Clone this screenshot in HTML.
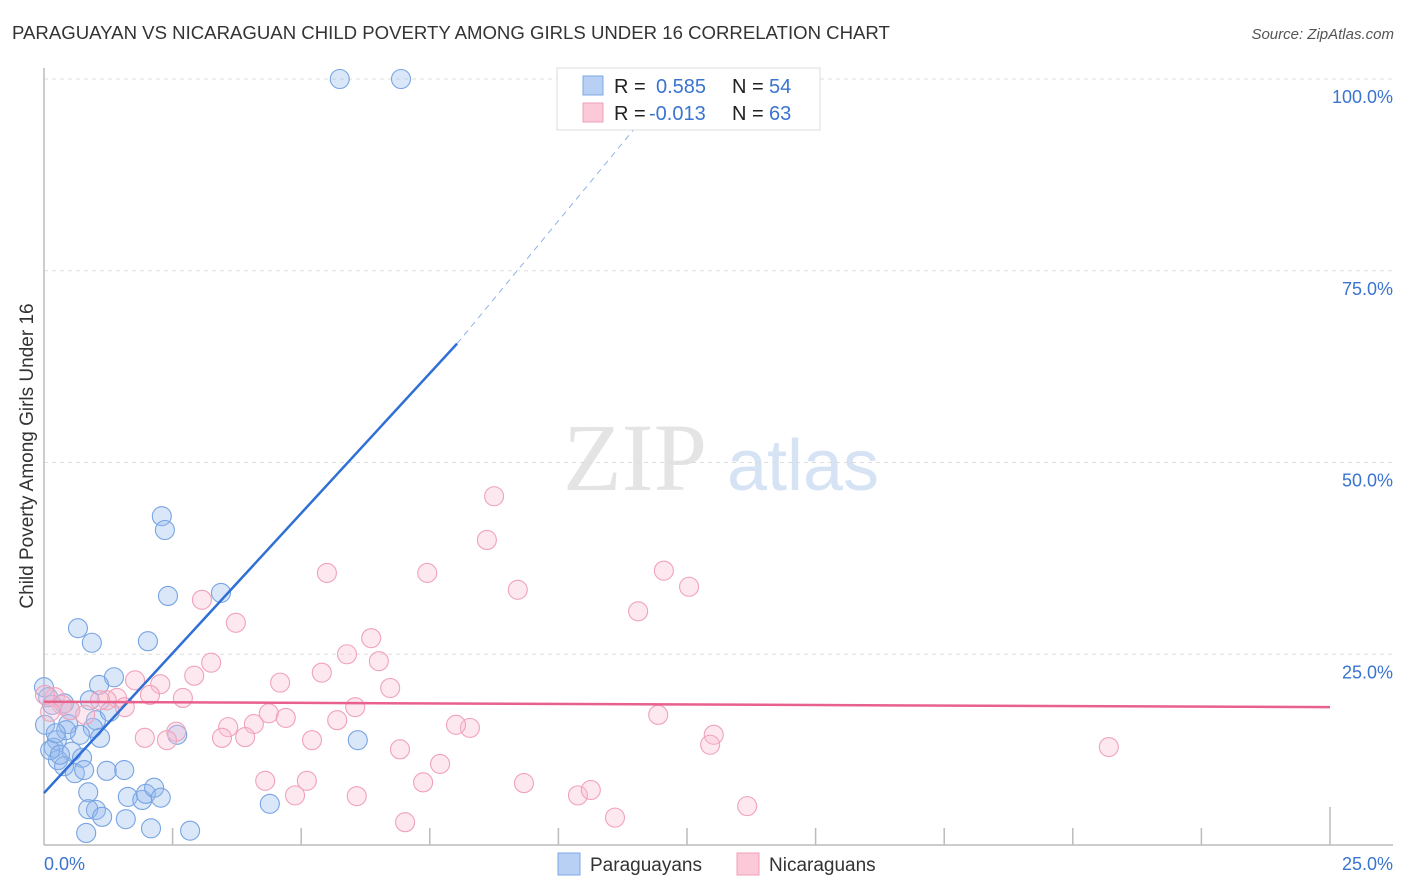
<!DOCTYPE html>
<html><head><meta charset="utf-8"><style>
body{margin:0;background:#fff;font-family:"Liberation Sans",sans-serif}
</style></head><body>
<svg id="chart" width="1406" height="892" xmlns="http://www.w3.org/2000/svg" style="display:block">
<text x="12" y="39" font-size="18.6" fill="#333">PARAGUAYAN VS NICARAGUAN CHILD POVERTY AMONG GIRLS UNDER 16 CORRELATION CHART</text>
<text x="1394" y="39" font-size="15" fill="#555" font-style="italic" text-anchor="end">Source: ZipAtlas.com</text>
<text transform="translate(33,456) rotate(-90)" font-size="19" fill="#333" text-anchor="middle">Child Poverty Among Girls Under 16</text>
<g>
<text x="635" y="490" font-size="96" fill="#e4e4e4" font-family="Liberation Serif,serif" text-anchor="middle">ZIP</text>
<text x="803" y="490" font-size="72" fill="#d6e3f5" text-anchor="middle">atlas</text>
</g>
<g id="grid"></g>
<g id="axes"></g>
<g id="pts"></g>
<g id="trend"></g>
<g>
<rect x="557" y="68" width="263" height="62" fill="#fff" stroke="#ddd"/>
<rect x="583" y="76" width="20" height="19" fill="#b7d0f4" stroke="#7ea8e6"/>
<rect x="583" y="103" width="20" height="19" fill="#fbc9d8" stroke="#f0a0b8"/>
<text x="614" y="93" font-size="20" fill="#222">R = </text><text x="656" y="93" font-size="20" fill="#3a74d0">0.585</text>
<text x="732" y="93" font-size="20" fill="#222">N = </text><text x="769" y="93" font-size="20" fill="#3a74d0">54</text>
<text x="614" y="120" font-size="20" fill="#222">R = </text><text x="649" y="120" font-size="20" fill="#3a74d0">-0.013</text>
<text x="732" y="120" font-size="20" fill="#222">N = </text><text x="769" y="120" font-size="20" fill="#3a74d0">63</text>
</g>
<g>
<rect x="558" y="853" width="22" height="22" fill="#b7d0f4" stroke="#7ea8e6"/>
<text x="590" y="871" font-size="19" fill="#333">Paraguayans</text>
<rect x="737" y="853" width="22" height="22" fill="#fbc9d8" stroke="#f0a0b8"/>
<text x="769" y="871" font-size="19" fill="#333">Nicaraguans</text>
</g>
</svg>
<script>
const blueX=[5.75,6.94,2.29,2.35,2.41,3.44,0.66,0.93,2.02,1.36,1.07,0,0.08,0.39,0.51,1.01,0.47,0.95,0.70,1.09,0.25,0.19,0.54,0.27,0.74,0.39,0.60,0.78,1.22,1.56,0.86,1.63,1.91,1.98,2.14,2.27,1.01,0.86,1.13,1.59,2.08,0.82,2.84,4.39,6.10,2.59,0.12,0.31,0.02,0.43,0.16,0.23,0.89,1.28];
const blueY=[100,100,43.0,41.2,32.6,33.0,28.4,26.5,26.7,22.0,21.0,20.7,19.4,18.6,17.7,16.4,15.9,15.4,14.5,14.1,13.8,12.8,12.3,11.2,11.5,10.4,9.5,9.9,9.8,9.9,7.0,6.4,6.0,6.8,7.6,6.3,4.7,4.8,3.8,3.5,2.3,1.7,2.0,5.5,13.8,14.5,12.5,11.9,15.8,15.1,18.4,14.7,19.0,17.5];
const pinkX=[8.75,8.61,5.50,7.45,9.21,12.05,12.54,11.55,3.07,3.73,6.36,5.89,6.51,3.25,5.40,2.92,1.77,2.26,4.59,6.73,2.70,1.42,2.06,1.22,1.57,0.21,0.35,0.51,0.12,4.37,4.70,6.05,11.94,3.58,5.70,4.08,2.57,1.96,2.39,3.46,3.91,5.21,13.02,12.95,20.70,6.92,8.28,8.01,7.70,4.30,5.11,4.88,6.08,7.37,9.33,10.38,10.63,13.67,11.10,7.02,0.80,1.09,0.02];
const pinkY=[45.6,39.9,35.6,35.6,33.4,35.9,33.8,30.6,32.1,29.1,27.1,25.0,24.1,23.9,22.6,22.2,21.6,21.1,21.3,20.6,19.3,19.3,19.7,19.0,18.1,19.4,18.4,17.7,17.5,17.3,16.7,18.1,17.1,15.5,16.4,15.9,14.9,14.1,13.8,14.1,14.2,13.8,14.5,13.2,12.9,12.6,15.4,15.8,10.7,8.5,8.5,6.6,6.5,8.3,8.2,6.6,7.3,5.2,3.7,3.1,17.1,19.0,19.7];
const yTicks=[25,50,75,100];
const yTickLabels=["25.0%","50.0%","75.0%","100.0%"];
const blueTrend=[0,6.9,8.03,65.5,11.5,93.7];
const pinkTrend=[0,18.8,25,18.1];
const NS="http://www.w3.org/2000/svg";
const sx=v=>44+v/25*1286, sy=v=>846-v*7.67;
function mk(t,a,p){const e=document.createElementNS(NS,t);for(const k in a)e.setAttribute(k,a[k]);p.appendChild(e);return e;}
const grid=document.getElementById('grid'),axes=document.getElementById('axes'),pts=document.getElementById('pts'),tr=document.getElementById('trend');
yTicks.forEach((t,i)=>{
 const l=mk('line',{x1:44,x2:1393,y1:sy(t),y2:sy(t),stroke:'#ddd','stroke-dasharray':'4,4'},grid);
 
 
 const tx=mk('text',{x:1393,y:sy(t)+24,'font-size':18,fill:'#3a74d0','text-anchor':'end'},grid);
 tx.textContent=yTickLabels[i];
 
 
});
const ax=mk('line',{x1:44,x2:1393,y1:845,y2:845,stroke:'#bbb','stroke-width':1.5},axes);


const ay=mk('line',{x1:44,x2:44,y1:68,y2:845,stroke:'#bbb','stroke-width':1.5},axes);


for(let i=1;i<=10;i++){const x=sx(i*2.5);const t=mk('line',{x1:x,x2:x,y1:i==10?807:828,y2:845,stroke:'#bbb','stroke-width':1.5},axes);
 
 }
[[0,"0.0%",'start',44],[25,"25.0%",'end',1393]].forEach(d=>{const t=mk('text',{x:d[3],y:870,'font-size':18,fill:'#3a74d0','text-anchor':d[2]},axes);t.textContent=d[1];
 
 });
blueX.forEach((v,i)=>{const c=mk('circle',{cx:sx(v),cy:sy(blueY[i]),r:9.5,fill:'rgba(150,186,238,0.35)',stroke:'#78a4e2','stroke-width':1.1},pts);
 
 });
pinkX.forEach((v,i)=>{const c=mk('circle',{cx:sx(v),cy:sy(pinkY[i]),r:9.5,fill:'rgba(248,190,208,0.35)',stroke:'#f0a2ba','stroke-width':1.1},pts);
 
 });
const b1=mk('line',{x1:sx(blueTrend[0]),y1:sy(blueTrend[1]),x2:sx(blueTrend[2]),y2:sy(blueTrend[3]),stroke:'#2f6fd6','stroke-width':2.5},tr);


const b2=mk('line',{x1:sx(blueTrend[2]),y1:sy(blueTrend[3]),x2:sx(blueTrend[4]),y2:sy(blueTrend[5]),stroke:'#8fb2ea','stroke-width':1,'stroke-dasharray':'6,5'},tr);


const p1=mk('line',{x1:sx(pinkTrend[0]),y1:sy(pinkTrend[1]),x2:sx(pinkTrend[2]),y2:sy(pinkTrend[3]),stroke:'#e8608c','stroke-width':2.5},tr);


</script>
</body></html>
